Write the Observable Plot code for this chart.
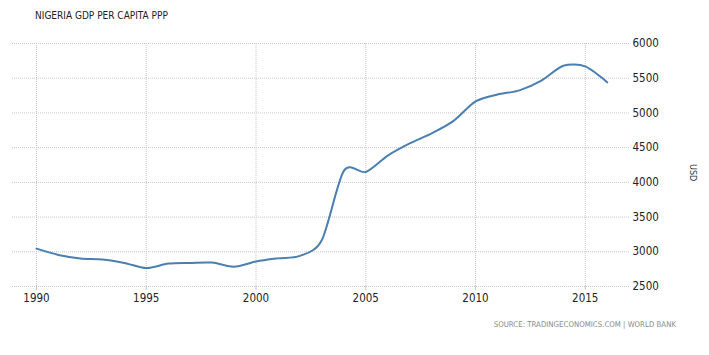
<!DOCTYPE html>
<html>
<head>
<meta charset="utf-8">
<script src="https://cdn.jsdelivr.net/npm/d3@7"></script>
<script src="https://cdn.jsdelivr.net/npm/@observablehq/plot@0.6"></script>
<style>
  html, body { margin: 0; padding: 0; background: #fff; }
  #wrap { position: relative; width: 709px; height: 355px; overflow: hidden; }
  #title { position: absolute; left: 35px; top: 10px; font: 10px "DejaVu Sans Condensed", "DejaVu Sans", sans-serif; color: #222; white-space: nowrap; }
  #caption { position: absolute; right: 33px; top: 320px; font: 7.8px "DejaVu Sans Condensed", "DejaVu Sans", sans-serif; color: #8a8a8a; white-space: nowrap; }
  #unit { position: absolute; left: 686px; top: 164px; font: 9px "DejaVu Sans Condensed", "DejaVu Sans", sans-serif; color: #333; transform: rotate(90deg); transform-origin: 6px 6px; white-space: nowrap; }
</style>
</head>
<body>
<div id="wrap">
  <div id="chart"></div>
  <div id="title">NIGERIA GDP PER CAPITA PPP</div>
  <div id="unit">USD</div>
  <div id="caption">SOURCE: TRADINGECONOMICS.COM | WORLD BANK</div>
</div>
<script>
const years = [1990,1991,1992,1993,1994,1995,1996,1997,1998,1999,2000,2001,2002,2003,2004,2005,2006,2007,2008,2009,2010,2011,2012,2013,2014,2015,2016];
const gdp = [3045,2955,2905,2890,2840,2765,2830,2840,2845,2785,2860,2905,2940,3170,4165,4150,4385,4560,4705,4885,5165,5265,5325,5465,5680,5670,5440];
const xTicks = [1990,1995,2000,2005,2010,2015];
const yTicks = [2500,3000,3500,4000,4500,5000,5500,6000];

const data = years.map((y, i) => ({year: y, value: gdp[i]}));

const chart = Plot.plot({
  width: 709,
  height: 355,
  marginTop: 43,
  marginBottom: 69,
  marginLeft: 12,
  marginRight: 79,
  style: {fontFamily: "'Liberation Sans Narrow', 'DejaVu Sans Condensed', sans-serif", fontSize: "11.5px", color: "#222", background: "#fff"},
  x: {domain: [1988.907, 2017.06]},
  y: {domain: [2500, 6000]},
  marks: [
    Plot.gridY(yTicks, {stroke: "#c8c8c8", strokeOpacity: 1, strokeDasharray: "1,1"}),
    Plot.gridX(xTicks, {stroke: "#c8c8c8", strokeOpacity: 1, strokeDasharray: "1,1"}),
    Plot.axisX(xTicks, {tickFormat: d => String(d), tickSize: 4, tickPadding: 3, stroke: "#c8c8c8", label: null}),
    Plot.axisY(yTicks, {anchor: "right", tickFormat: d => String(d), tickSize: 0, tickPadding: 2, label: null}),
    Plot.line(data, {x: "year", y: "value", stroke: "#4a7fb0", strokeWidth: 2, curve: "cardinal", tension: 0.15})
  ]
});
document.getElementById("chart").appendChild(chart);
</script>
</body>
</html>
